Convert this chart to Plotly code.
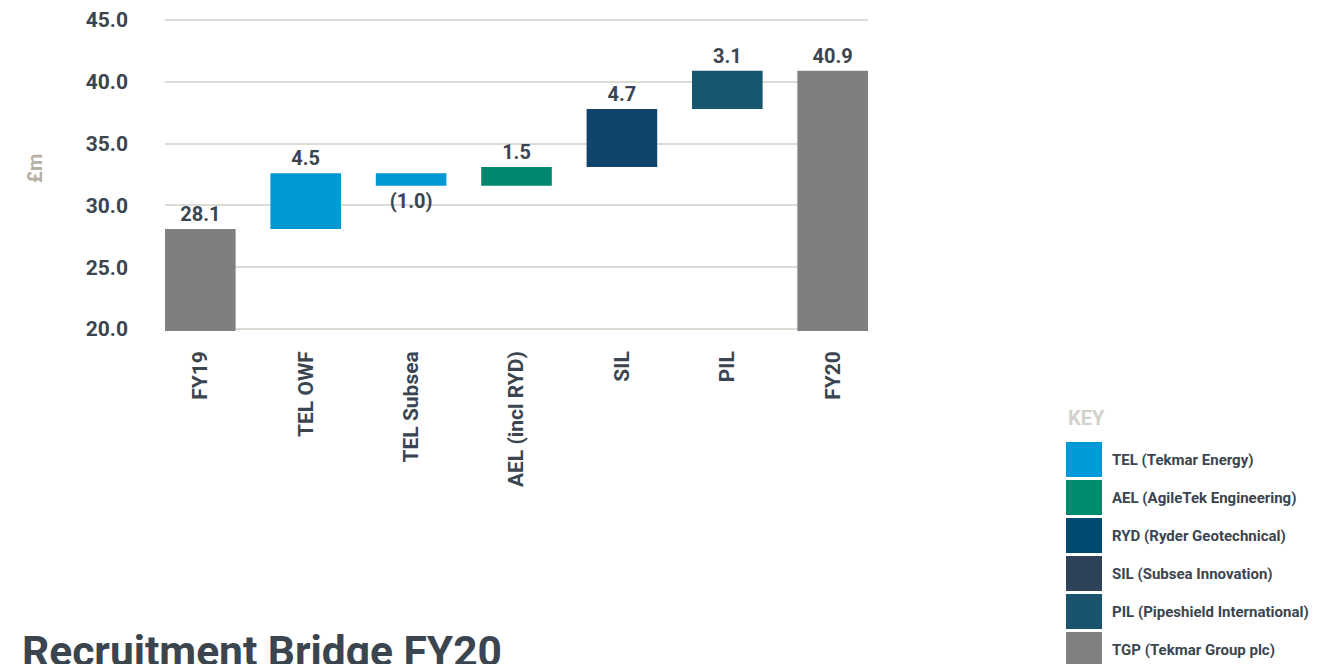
import plotly.graph_objects as go

categories = ["FY19", "TEL OWF", "TEL Subsea", "AEL (incl RYD)", "SIL", "PIL", "FY20"]
changes = [28.1, 4.5, -1.0, 1.5, 4.7, 3.1, 40.9]
measures = ["absolute", "relative", "relative", "relative", "relative", "relative", "total"]
value_labels = ["28.1", "4.5", "(1.0)", "1.5", "4.7", "3.1", "40.9"]
bar_colors = ["#7f7f7f", "#0099d6", "#0099d6", "#00896e", "#10446a", "#18556f", "#7f7f7f"]

key_labels = ["TEL (Tekmar Energy)", "AEL (AgileTek Engineering)", "RYD (Ryder Geotechnical)",
              "SIL (Subsea Innovation)", "PIL (Pipeshield International)", "TGP (Tekmar Group plc)"]
key_colors = ["#009ad8", "#008a6e", "#004b6f", "#2e4359", "#19536e", "#808080"]

y_ticks = [20, 25, 30, 35, 40, 45]

# compute bases/heights for floating bars
bases, heights = [], []
running = 0.0
for m, v in zip(measures, changes):
    if m == "absolute":
        bases.append(0)
        heights.append(v)
        running = v
    elif m == "total":
        bases.append(0)
        heights.append(running)
    else:
        bases.append(running)
        heights.append(v)
        running += v

FONT = "Roboto"
DARK = "#3b4550"
BAR_W = 0.67

# page body has an 8px default margin; compensate so the picture lines up
OFF = 8
W, H = 1330 - OFF, 664 - OFF
PL, PR, PT, PB = 165 - OFF, 868 - OFF, 18 - OFF, 331 - OFF
pw, ph = PR - PL, PB - PT


def px_to_paper(xp, yp):
    xp -= OFF
    yp -= OFF
    return (xp - PL) / pw, (PB - yp) / ph


fig = go.Figure()
fig.add_trace(go.Bar(
    x=categories, y=heights, base=bases,
    marker=dict(color=bar_colors, line=dict(width=0)),
    width=BAR_W,
    text=value_labels, textposition="outside",
    textfont=dict(family=FONT, size=20, color=DARK, weight="bold"),
    cliponaxis=False, showlegend=False, hoverinfo="skip",
))

fig.update_layout(
    width=W, height=H,
    margin=dict(l=PL, r=W - PR, t=PT, b=H - PB, autoexpand=False),
    paper_bgcolor="white", plot_bgcolor="white",
    font=dict(family=FONT, color=DARK),
)
fig.update_xaxes(
    range=[-BAR_W / 2, len(categories) - 1 + BAR_W / 2],
    tickangle=-90, ticklabelstandoff=15, showgrid=False, zeroline=False, showline=False,
    tickfont=dict(family=FONT, size=21, color=DARK, weight="bold"),
)
fig.update_yaxes(
    range=[19.84, 45.16], tickvals=y_ticks, tickformat=".1f",
    showgrid=True, gridcolor="#dcdcd5", gridwidth=2, zeroline=False, showline=False,
    ticklabelstandoff=36,
    tickfont=dict(family=FONT, size=21, color=DARK, weight="bold"),
)

texts = [
    dict(text="£m", px=35, py=169, xanchor="center", yanchor="middle", textangle=-90,
         font=dict(family=FONT, size=20, color="#b8afa6", weight="bold")),
    dict(text="Recruitment Bridge FY20", px=20, py=625, xanchor="left", yanchor="top",
         font=dict(family=FONT, size=42.5, color=DARK, weight="bold")),
    dict(text="KEY", px=1066, py=418, xanchor="left", yanchor="middle",
         font=dict(family=FONT, size=20, color="#d2d2ca", weight="bold")),
]

annotations = []
for t in texts:
    x, y = px_to_paper(t.pop("px"), t.pop("py"))
    annotations.append(dict(x=x, y=y, xref="paper", yref="paper", showarrow=False, **t))

shapes = []
for i, (lab, col) in enumerate(zip(key_labels, key_colors)):
    top = 442 + i * 38
    bot = top + 35
    x0, y0 = px_to_paper(1066, bot)
    x1, y1 = px_to_paper(1102, top)
    shapes.append(dict(type="rect", xref="paper", yref="paper", x0=x0, x1=x1, y0=y0, y1=y1,
                       fillcolor=col, line=dict(width=0)))
    tx, ty = px_to_paper(1110, (top + bot) / 2)
    annotations.append(dict(text=lab, x=tx, y=ty, xref="paper", yref="paper", showarrow=False,
                            xanchor="left", yanchor="middle",
                            font=dict(family=FONT, size=15, color=DARK, weight="bold")))

fig.update_layout(annotations=annotations, shapes=shapes)
fig.write_html("out.html")
